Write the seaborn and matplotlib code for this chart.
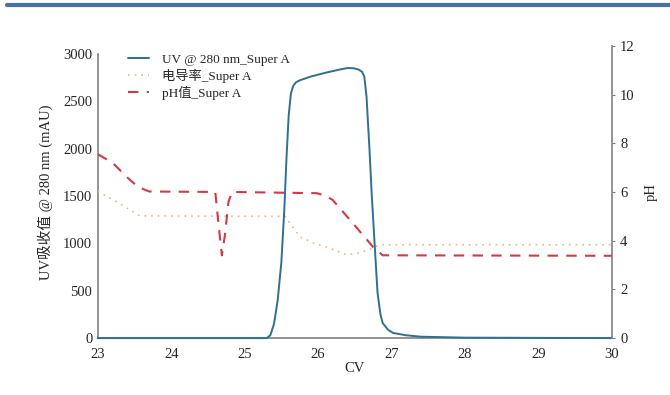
import pandas as pd
import seaborn as sns
import matplotlib.pyplot as plt
from matplotlib.lines import Line2D

# Data
uv_cv = [23.0, 25.3, 25.35, 25.4, 25.45, 25.5, 25.54, 25.57, 25.6, 25.63, 25.66, 25.7,
         25.75, 25.9, 26.1, 26.3, 26.4, 26.48, 26.55, 26.6, 26.63, 26.66, 26.7, 26.73,
         26.77, 26.81, 26.85, 26.88, 26.95, 27.02, 27.2, 27.4, 28.0, 30.0]
uv_mau = [0, 0, 30, 150, 400, 800, 1350, 1900, 2350, 2580, 2660, 2700,
          2720, 2760, 2800, 2835, 2850, 2848, 2835, 2810, 2760, 2550, 2000, 1530,
          1000, 480, 250, 160, 90, 55, 30, 15, 5, 0]

cond_cv = [23.0, 23.3, 23.57, 25.55, 25.75, 25.95, 26.12, 26.39, 26.57, 26.75, 26.84, 30.0]
cond_val = [1550, 1420, 1290, 1285, 1070, 1000, 960, 880, 900, 950, 985, 985]

ph_cv = [23.0, 23.2, 23.4, 23.55, 23.7, 24.6, 24.65, 24.69, 24.73, 24.78, 24.83, 25.98,
         26.1, 26.2, 26.47, 26.75, 26.88, 30.0]
ph_val = [7.55, 7.2, 6.6, 6.2, 6.02, 6.0, 4.5, 3.4, 4.2, 5.6, 6.0, 5.95,
          5.85, 5.67, 4.73, 3.74, 3.4, 3.38]

uv_df = pd.DataFrame({"CV": uv_cv, "val": uv_mau})
cond_df = pd.DataFrame({"CV": cond_cv, "val": cond_val})
ph_df = pd.DataFrame({"CV": ph_cv, "val": ph_val})

sns.set_style("white")
plt.rcParams['font.family'] = ['Liberation Serif', 'Noto Sans CJK SC']

fig = plt.figure(figsize=(6.7, 3.95), dpi=100)
ax = fig.add_axes([0.146, 0.144, 0.767, 0.740])
ax2 = ax.twinx()

sns.lineplot(data=uv_df, x="CV", y="val", ax=ax, color="#2f6f8f", lw=1.4,
             label="UV @ 280 nm_Super A", legend=False, clip_on=False, zorder=5)
sns.lineplot(data=cond_df, x="CV", y="val", ax=ax, color="#e3b992", lw=1.2,
             linestyle=(0, (1, 3)), label="电导率_Super A", legend=False)
sns.lineplot(data=ph_df, x="CV", y="val", ax=ax2, color="#d23a45", lw=1.5,
             linestyle=(0, (5, 4)), label="pH值_Super A", legend=False)

ax.set_xlim(23, 30)
ax.set_ylim(0, 3084.5)
ax2.set_ylim(0, 12)
ax.set_xticks(range(23, 31))
ax.set_yticks(range(0, 3001, 500))
ax2.set_yticks(range(0, 13, 2))

for a in (ax, ax2):
    for s in a.spines.values():
        s.set_visible(False)
    a.tick_params(labelsize=10.5, length=0, pad=4)
ax.tick_params(axis='x', pad=7)
ax.spines['left'].set_visible(True)
ax.spines['left'].set_bounds(0, 3000)
ax.spines['bottom'].set_visible(True)
ax2.spines['right'].set_visible(True)
for s in (ax.spines['left'], ax.spines['bottom'], ax2.spines['right']):
    s.set_color("#808080")
    s.set_linewidth(1.2)
    s.set_zorder(1)
ax2.tick_params(axis='y', length=2, direction='out', color="#808080")

ax.set_xlabel("CV", fontsize=10.5, labelpad=1)
ax.set_ylabel("UV吸收值 @ 280 nm (mAU)", fontsize=10.5, labelpad=7)
ax2.set_ylabel("pH", fontsize=10.5, labelpad=7)

h1, l1 = ax.get_legend_handles_labels()
h2, l2 = ax2.get_legend_handles_labels()
ax.legend(h1 + h2, l1 + l2, loc="upper left", bbox_to_anchor=(0.035, 1.015),
          frameon=False, fontsize=9.5, handlelength=1.6, handletextpad=1.0,
          labelspacing=0.22)

# blue rule across the top of the page
fig.add_artist(Line2D([0.011, 1.0], [0.987, 0.987], color="#4a70a8", lw=3))

fig.savefig("out.png", dpi=100)
